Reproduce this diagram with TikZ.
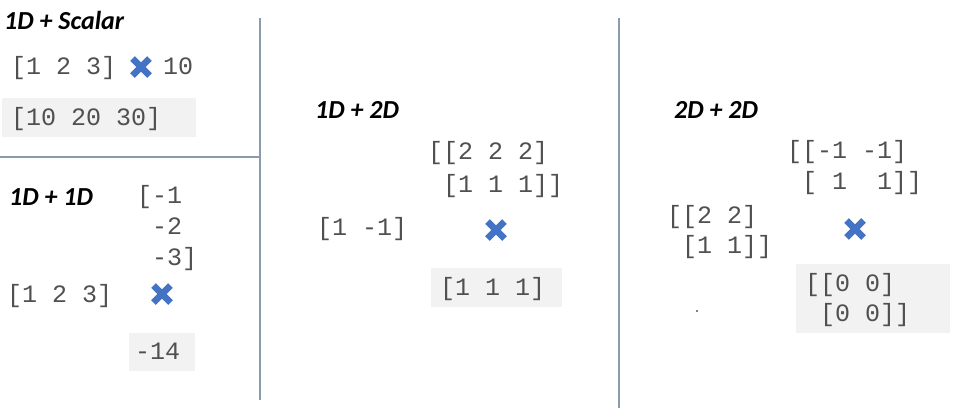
\documentclass[tikz,border=0pt]{standalone}
\usepackage{fontspec}
\newfontfamily\monof{Liberation Mono}
\newfontfamily\headf{Carlito}
\definecolor{txtgray}{RGB}{80,80,80}
\definecolor{boxgray}{RGB}{242,242,242}
\definecolor{sepline}{RGB}{140,155,172}
\definecolor{xblue}{RGB}{68,114,196}
\begin{document}
\begin{tikzpicture}[x=1pt,y=-1pt,
  mono/.style={anchor=base west,inner sep=0pt,text=txtgray,font=\monof\fontsize{25}{30}\selectfont},
  head/.style={anchor=base west,inner sep=0pt,font=\headf\bfseries\itshape\fontsize{26}{30}\selectfont},
  xmark/.style={minimum size=24pt,inner sep=0pt,
    path picture={\draw[xblue,line width=6.5pt]
      ([shift={(-8.5pt,-8.5pt)}]path picture bounding box.center) -- ([shift={(8.5pt,8.5pt)}]path picture bounding box.center)
      ([shift={(-8.5pt,8.5pt)}]path picture bounding box.center) -- ([shift={(8.5pt,-8.5pt)}]path picture bounding box.center);}},
  gbox/.style={fill=boxgray,draw=none},
  sep/.style={draw=sepline,line width=1.2pt}]
\useasboundingbox (0,0) rectangle (962,408);
% separators
\coordinate (h1) at (0,157); \coordinate (h2) at (260,157);
\coordinate (v1a) at (260,18); \coordinate (v1b) at (260,400);
\coordinate (v2a) at (619,18); \coordinate (v2b) at (619,408);
\draw[sep] (h1) -- (h2);
\draw[sep] (v1a) -- (v1b);
\draw[sep] (v2a) -- (v2b);
% gray boxes
\fill[gbox] (2,98) rectangle (196,137);
\fill[gbox] (129,333) rectangle (195,371);
\fill[gbox] (431,268) rectangle (562,307);
\fill[gbox] (796,264) rectangle (950,333);
% Panel 1: 1D + Scalar
\node[head] (h1s) at (4,29) {1D + Scalar};
\node[mono] (a1) at (11,74) {[1~2~3]};
\node[xmark] (x1) at (141,67) {};
\node[mono] (a2) at (163,74) {10};
\node[mono] (r1) at (11,125.5) {[10~20~30]};
% Panel 1b: 1D + 1D
\node[head] (h11) at (9,205) {1D + 1D};
\node[mono] (c1) at (137,203.5) {[-1};
\node[mono] (c2) at (137,234.5) {~-2};
\node[mono] (c3) at (137,265.5) {~-3]};
\node[mono] (b1) at (7,302) {[1~2~3]};
\node[xmark] (x2) at (162,294) {};
\node[mono] (r2) at (135,359.5) {-14};
% Panel 2: 1D + 2D
\node[head] (h12) at (315,118) {1D + 2D};
\node[mono] (m1) at (428,159.5) {[[2~2~2]};
\node[mono] (m2) at (428,192.5) {~[1~1~1]]};
\node[mono] (v1) at (317,235.5) {[1~-1]};
\node[xmark] (x3) at (496,230) {};
\node[mono] (r3) at (440,295.5) {[1~1~1]};
% Panel 3: 2D + 2D
\node[head] (h22) at (674,118) {2D + 2D};
\node[mono] (n1) at (787,158.5) {[[-1~-1]};
\node[mono] (n2) at (787,189.5) {~[~1~~1]]};
\node[mono] (p1) at (667,223.5) {[[2~2]};
\node[mono] (p2) at (667,253.5) {~[1~1]]};
\node[xmark] (x4) at (855,229) {};
\node[mono] (r4a) at (805,291.5) {[[0~0]};
\node[mono] (r4b) at (805,321.5) {~[0~0]]};
\fill[black] (697,311) circle (0.8pt);
\end{tikzpicture}
\end{document}
